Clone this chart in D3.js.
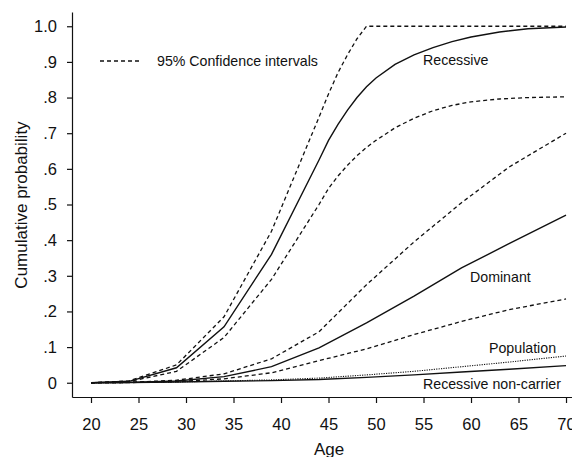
<!DOCTYPE html>
<html>
<head>
<meta charset="utf-8">
<title>Cumulative probability by age</title>
<script src="https://cdn.jsdelivr.net/npm/d3@7"></script>
<style>
    body { margin: 0; background: #fff; }
    svg { display: block; font-family: "Liberation Sans", Arial, sans-serif; }
    .axis path, .axis line { stroke: #111; stroke-width: 1.2; }
    .axis text { fill: #111; font-size: 16.5px; }
</style>
</head>
<body>
<svg id="chart" width="572" height="457"></svg>
<script>
// recessive curves (with 95% CI)
var recAges = [20, 24, 29, 34, 39, 44, 45, 46, 47, 48, 49, 50, 52, 54, 56, 58, 60, 63, 66, 70];
var recessive = [0, 0.004, 0.042, 0.157, 0.36, 0.625, 0.68, 0.725, 0.765, 0.80, 0.83, 0.855, 0.893, 0.92, 0.94, 0.957, 0.97, 0.984, 0.993, 0.998];
var recUpper = [0, 0.005, 0.05, 0.185, 0.425, 0.745, 0.81, 0.87, 0.92, 0.965, 1.0, 1.0, 1.0, 1.0, 1.0, 1.0, 1.0, 1.0, 1.0, 1.0];
var recLower = [0, 0.003, 0.032, 0.127, 0.29, 0.50, 0.545, 0.58, 0.61, 0.637, 0.66, 0.68, 0.715, 0.742, 0.763, 0.778, 0.788, 0.796, 0.80, 0.802];

// dominant, population, non-carrier
var ages = [20, 24, 29, 34, 39, 44, 49, 54, 59, 64, 70];
var dominant = [0, 0.001, 0.005, 0.017, 0.045, 0.098, 0.168, 0.243, 0.322, 0.39, 0.47];
var domUpper = [0, 0.001, 0.007, 0.025, 0.067, 0.143, 0.275, 0.395, 0.505, 0.605, 0.70];
var domLower = [0, 0.0005, 0.003, 0.011, 0.028, 0.062, 0.095, 0.135, 0.172, 0.205, 0.235];
var population = [0, 0.0005, 0.002, 0.005, 0.008, 0.013, 0.022, 0.032, 0.045, 0.058, 0.075];
var nonCarrier = [0, 0.0005, 0.002, 0.004, 0.006, 0.009, 0.015, 0.022, 0.030, 0.038, 0.048];

var xTicks = [20, 25, 30, 35, 40, 45, 50, 55, 60, 65, 70];
var yTicks = [0, 0.1, 0.2, 0.3, 0.4, 0.5, 0.6, 0.7, 0.8, 0.9, 1.0];
var yTickLabels = ["0", ".1", ".2", ".3", ".4", ".5", ".6", ".7", ".8", ".9", "1.0"];

var svg = d3.select("#chart");

var x = d3.scaleLinear().domain([18, 70.63]).range([72, 572]);
var y = d3.scaleLinear().domain([-0.04, 1.04]).range([397, 12]);

// axes
svg.append("g")
    .attr("class", "axis")
    .attr("transform", "translate(0,397)")
    .call(d3.axisBottom(x).tickValues(xTicks).tickSize(6).tickSizeOuter(0).tickPadding(15)
        .tickFormat(d3.format("d")));

svg.append("g")
    .attr("class", "axis")
    .attr("transform", "translate(72,0)")
    .call(d3.axisLeft(y).tickValues(yTicks).tickSize(5).tickSizeOuter(0).tickPadding(10)
        .tickFormat(function(d, i) { return yTickLabels[i]; }));

svg.append("text")
    .attr("x", 329).attr("y", 455)
    .attr("text-anchor", "middle")
    .attr("font-size", "17px").attr("fill", "#111")
    .text("Age");

svg.append("text")
    .attr("transform", "translate(27,205) rotate(-90)")
    .attr("text-anchor", "middle")
    .attr("font-size", "17px").attr("fill", "#111")
    .text("Cumulative probability");

// lines
function drawLine(xs, vals, dash, width) {
    var line = d3.line()
        .x(function(d, i) { return x(xs[i]); })
        .y(function(d) { return y(d); });
    svg.append("path")
        .datum(vals)
        .attr("d", line)
        .attr("fill", "none")
        .attr("stroke", "#111")
        .attr("stroke-width", width)
        .attr("stroke-dasharray", dash);
}

drawLine(recAges, recUpper, "4,3", 1.3);
drawLine(recAges, recLower, "4,3", 1.3);
drawLine(recAges, recessive, null, 1.4);
drawLine(ages, domUpper, "4,3", 1.3);
drawLine(ages, domLower, "4,3", 1.3);
drawLine(ages, dominant, null, 1.4);
drawLine(ages, population, "1.2,1.2", 1.1);
drawLine(ages, nonCarrier, null, 1.4);

// legend
svg.append("line")
    .attr("x1", 100).attr("x2", 139).attr("y1", 61).attr("y2", 61)
    .attr("stroke", "#111").attr("stroke-width", 1.3).attr("stroke-dasharray", "4,3");

var labels = [
    { t: "95% Confidence intervals", x: 157, y: 66 },
    { t: "Recessive", x: 423, y: 65 },
    { t: "Dominant", x: 470, y: 282 },
    { t: "Population", x: 489, y: 353 },
    { t: "Recessive non-carrier", x: 423, y: 389 }
];
svg.selectAll("text.lab")
    .data(labels)
    .enter().append("text")
    .attr("class", "lab")
    .attr("x", function(d) { return d.x; })
    .attr("y", function(d) { return d.y; })
    .attr("font-size", "14.2px")
    .attr("fill", "#111")
    .text(function(d) { return d.t; });
</script>
</body>
</html>
